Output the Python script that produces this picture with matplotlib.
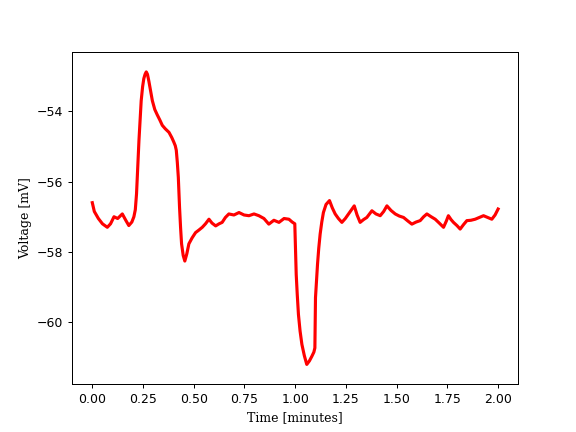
import matplotlib
matplotlib.use('Agg')
import numpy as np
import matplotlib.pyplot as plt

# values (time in minutes, voltage in mV)
time_min = [0.000, 0.010, 0.030, 0.050, 0.074, 0.090, 0.107, 0.125, 0.148, 0.165,
            0.180, 0.195, 0.205, 0.212, 0.218, 0.224, 0.230, 0.236, 0.241, 0.248,
            0.254, 0.260, 0.266, 0.272, 0.279, 0.288, 0.296, 0.308, 0.320, 0.333,
            0.345, 0.360, 0.378, 0.392, 0.402, 0.409, 0.414, 0.419, 0.424, 0.430,
            0.435, 0.440, 0.448, 0.456, 0.466, 0.476, 0.492, 0.509, 0.525, 0.542,
            0.558, 0.575, 0.590, 0.608, 0.625, 0.640, 0.656, 0.673, 0.698, 0.723,
            0.748, 0.772, 0.797, 0.821, 0.846, 0.870, 0.895, 0.920, 0.945, 0.969,
            0.985, 0.998, 1.002, 1.005, 1.010, 1.016, 1.024, 1.033, 1.045, 1.057,
            1.070, 1.082, 1.092, 1.097, 1.100, 1.105, 1.110, 1.116, 1.123, 1.131,
            1.139, 1.152, 1.169, 1.183, 1.197, 1.213, 1.230, 1.247, 1.263, 1.278,
            1.291, 1.305, 1.320, 1.337, 1.353, 1.366, 1.378, 1.398, 1.419, 1.436,
            1.452, 1.472, 1.493, 1.513, 1.534, 1.555, 1.575, 1.596, 1.616, 1.633,
            1.649, 1.670, 1.690, 1.710, 1.731, 1.745, 1.755, 1.768, 1.780, 1.797,
            1.813, 1.830, 1.846, 1.866, 1.887, 1.908, 1.928, 1.948, 1.969, 1.985,
            2.000]
voltage_mv = [-56.60, -56.85, -57.05, -57.20, -57.30, -57.20, -57.00, -57.05, -56.92, -57.10,
              -57.25, -57.15, -57.00, -56.80, -56.35, -55.60, -54.83, -54.20, -53.70, -53.30,
              -53.07, -52.95, -52.88, -52.95, -53.15, -53.45, -53.70, -53.95, -54.10, -54.25,
              -54.40, -54.50, -54.60, -54.75, -54.88, -54.98, -55.11, -55.45, -55.88, -56.73,
              -57.30, -57.77, -58.10, -58.26, -58.05, -57.77, -57.60, -57.45, -57.38, -57.30,
              -57.20, -57.07, -57.18, -57.26, -57.20, -57.16, -57.02, -56.92, -56.95, -56.88,
              -56.95, -56.97, -56.92, -56.97, -57.05, -57.21, -57.10, -57.16, -57.05, -57.07,
              -57.15, -57.20, -58.00, -58.64, -59.20, -59.78, -60.25, -60.63, -60.95, -61.20,
              -61.10, -60.97, -60.85, -60.73, -59.30, -58.80, -58.35, -57.90, -57.49, -57.15,
              -56.88, -56.65, -56.54, -56.75, -56.92, -57.05, -57.16, -57.05, -56.92, -56.80,
              -56.69, -56.95, -57.16, -57.08, -57.02, -56.92, -56.83, -56.92, -56.97, -56.85,
              -56.69, -56.82, -56.92, -56.98, -57.02, -57.12, -57.21, -57.15, -57.11, -57.00,
              -56.92, -57.00, -57.07, -57.18, -57.30, -57.12, -56.97, -57.08, -57.16, -57.25,
              -57.35, -57.22, -57.11, -57.10, -57.07, -57.02, -56.97, -57.02, -57.07, -56.95,
              -56.78]

fig, ax = plt.subplots(figsize=(6.4, 4.8), dpi=90)
ax.plot(time_min, voltage_mv, color='red', linewidth=2.5)
ax.set_xlim(-0.1, 2.1)
ax.set_ylim(-61.77, -52.31)
ax.set_xticks(np.arange(0, 2.01, 0.25))
ax.set_yticks([-54, -56, -58, -60])
ax.set_xlabel('Time [minutes]', family='DejaVu Serif')
ax.set_ylabel('Voltage [mV]', family='DejaVu Serif')
fig.savefig('out.png')
